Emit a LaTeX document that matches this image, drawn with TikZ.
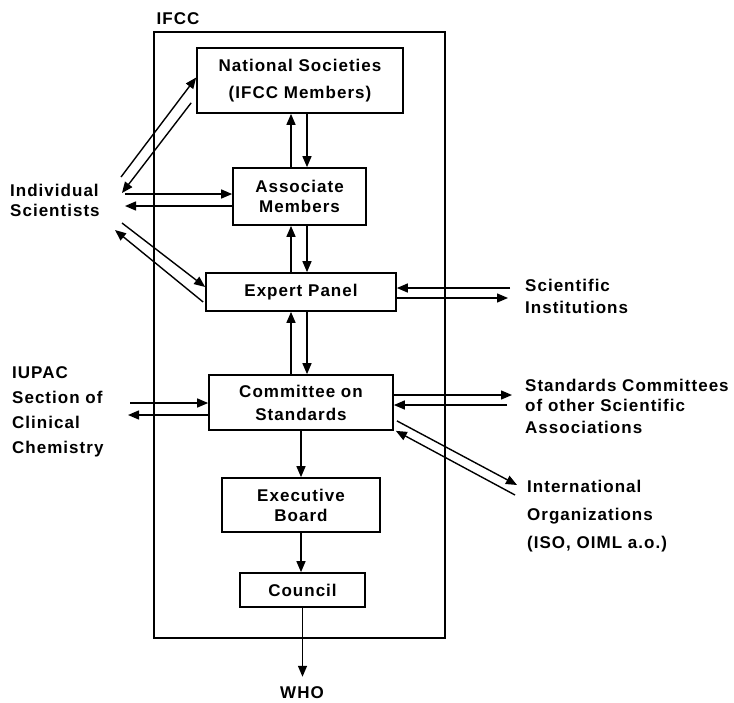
\documentclass[tikz,border=0pt]{standalone}
\usepackage{fontspec}
\setmainfont{Liberation Sans}[LetterSpace=6]
\usepackage{tikz}
\usetikzlibrary{calc,arrows.meta}
\tikzset{
  box/.style={draw, line width=1.7pt, align=center, inner sep=0pt},
  lab/.style={align=left, inner sep=0pt, anchor=west},
  arr/.style={line width=1.4pt, -{Triangle[length=11pt,width=9pt]}},
}

\begin{document}
\begin{tikzpicture}[x=1pt,y=-1pt,font=\fontsize{17}{20}\selectfont\bfseries]
\useasboundingbox (0,0) rectangle (734,702);
% IFCC frame
\node[draw, line width=1.5pt, minimum width=291pt, minimum height=606pt, inner sep=0pt] (ifcc) at (299.5,335) {};
\node (ifcclab) at (178,19) {IFCC};

% Boxes
\node[box, minimum width=206pt, minimum height=65pt] (natsoc) at (300,80.5) {National Societies\\[7pt](IFCC Members)};
\node[box, minimum width=133pt, minimum height=57pt] (assoc) at (299.5,196.5) {Associate\\Members};
\node[box, minimum width=190pt, minimum height=38pt] (expert) at (301,292) {Expert Panel};
\node[box, minimum width=184pt, minimum height=55pt] (stdcom) at (301,402.5) {Committee on\\[3pt]Standards};
\node[box, minimum width=158pt, minimum height=54pt] (exboard) at (301,505) {Executive\\Board};
\node[box, minimum width=125pt, minimum height=34pt] (council) at (302.5,590) {Council};

% Outside partners
\node[lab] (indsci) at (10,200) {Individual\\Scientists};
\node[lab] (iupac) at (12,412) {IUPAC\\[5pt]Section of\\[5pt]Clinical\\[5pt]Chemistry};
\node[lab] (sciinst) at (525,296) {Scientific\\[2pt]Institutions};
\node[lab] (stdother) at (525,406) {Standards Committees\\of other Scientific\\[2pt]Associations};
\node[lab] (intorg) at (527,516) {International\\[8pt]Organizations\\[8pt](ISO, OIML a.o.)};
\node[inner sep=10pt] (who) at (302,693) {WHO};

% Vertical links
\coordinate (spine) at (299,0);
\foreach \lo/\hi in {assoc/natsoc, expert/assoc, stdcom/expert}{
  \draw[arr] ([xshift=-8pt]spine |- \lo.north) -- ([xshift=-8pt]spine |- \hi.south);
  \draw[arr] ([xshift=8pt]spine |- \hi.south) -- ([xshift=8pt]spine |- \lo.north);
}
\draw[arr] (stdcom.south) -- (stdcom.south |- exboard.north);
\draw[arr] (exboard.south) -- (exboard.south |- council.north);
\draw[arr] (council.south) -- (council.south |- who.north);

% Individual Scientists
\coordinate (is1) at (121,177);
\coordinate (is2) at (122,193);
\coordinate (is3) at (125,194);
\coordinate (is4) at (125,206);
\coordinate (is5) at (122,223);
\coordinate (is6) at (115,230);
\draw[arr] (is1) -- ($(natsoc.west)+(0,-3)$);
\draw[arr] ($(natsoc.south west)+(-5,-11)$) -- (is2);
\draw[arr] (is3) -- (is3 -| assoc.west);
\draw[arr] (is4 -| assoc.west) -- (is4);
\draw[arr] (is5) -- ($(expert.west)+(0,-5)$);
\draw[arr] ($(expert.west)+(-2,10)$) -- (is6);

% IUPAC
\coordinate (iu1) at (130,403);
\coordinate (iu2) at (128,415);
\draw[arr] (iu1) -- (iu1 -| stdcom.west);
\draw[arr] (iu2 -| stdcom.west) -- (iu2);

% Right side
\coordinate (si1) at (510,288);
\coordinate (si2) at (508,298);
\draw[arr] (si1) -- (si1 -| expert.east);
\draw[arr] (si2 -| expert.east) -- (si2);
\coordinate (sc1) at (512,395);
\coordinate (sc2) at (507,405);
\draw[arr] (sc1 -| stdcom.east) -- (sc1);
\draw[arr] (sc2) -- (sc2 -| stdcom.east);
\coordinate (io1) at (517,485);
\coordinate (io2) at (515,495);
\draw[arr] ($(stdcom.south east)+(3,-10)$) -- (io1);
\draw[arr] (io2) -- ($(stdcom.south east)+(2,0)$);
\end{tikzpicture}
\end{document}
